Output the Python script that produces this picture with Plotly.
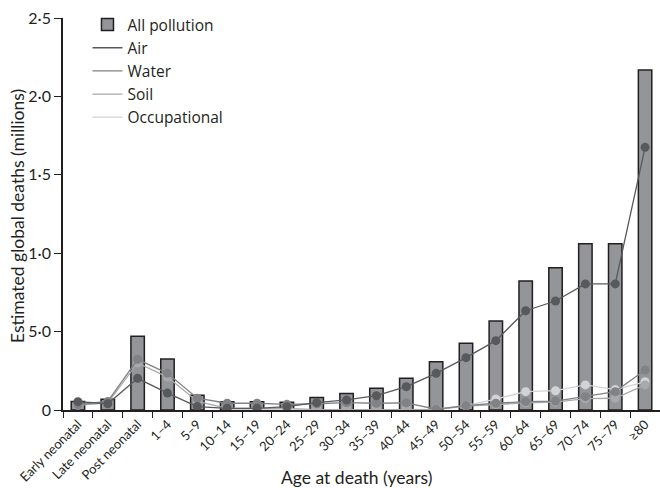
import plotly.graph_objects as go

categories = ["Early neonatal", "Late neonatal", "Post neonatal", "1–4", "5–9", "10–14",
              "15–19", "20–24", "25–29", "30–34", "35–39", "40–44", "45–49", "50–54",
              "55–59", "60–64", "65–69", "70–74", "75–79", "≥80"]

all_pollution = [0.055, 0.068, 0.47, 0.325, 0.094, 0.052, 0.052, 0.049, 0.08, 0.106,
                 0.138, 0.202, 0.308, 0.425, 0.568, 0.823, 0.908, 1.061, 1.061, 2.168]
air = [0.053, 0.04, 0.202, 0.108, 0.022, 0.011, 0.011, 0.021, 0.047, 0.064,
       0.091, 0.149, 0.234, 0.334, 0.442, 0.633, 0.695, 0.804, 0.804, 1.675]
water = [0.035, 0.055, 0.323, 0.234, 0.075, 0.043, 0.043, 0.036, 0.04, 0.047,
         0.043, 0.045, 0.005, 0.028, 0.043, 0.053, 0.057, 0.085, 0.117, 0.255]
soil = [0.03, 0.045, 0.30, 0.21, 0.055, 0.01, 0.01, 0.01, 0.003, 0.003,
        0.003, 0.003, 0.003, 0.025, 0.035, 0.045, 0.05, 0.072, 0.075, 0.16]
occupational = [None, None, None, None, None, 0.002, 0.003, 0.003, 0.003, 0.003,
                0.003, 0.003, 0.005, 0.028, 0.07, 0.117, 0.123, 0.16, 0.13, 0.18]

y_tickvals = [0, 0.5, 1.0, 1.5, 2.0, 2.5]
y_ticktext = ["0", "5·0", "1·0", "1·5", "2·0", "2·5"]

FONT = "Lato, 'Open Sans', sans-serif"
TXT = "#231f20"

series = [
    ("Occupational", occupational, "#d1d3d4"),
    ("Soil", soil, "#a7a9ac"),
    ("Water", water, "#808285"),
    ("Air", air, "#58595b"),
]

fig = go.Figure()
fig.add_trace(go.Bar(
    x=categories, y=all_pollution, name="All pollution", width=0.45,
    marker=dict(color="#939598", line=dict(color="#231f20", width=1.5)),
))
for name, vals, col in series:
    fig.add_trace(go.Scatter(
        x=categories, y=vals, mode="lines+markers", showlegend=False,
        line=dict(color=col, width=1.3), marker=dict(color=col, size=9),
        connectgaps=False,
    ))
for name, col in [("Air", "#58595b"), ("Water", "#808285"), ("Soil", "#a7a9ac"),
                  ("Occupational", "#d1d3d4")]:
    fig.add_trace(go.Scatter(x=[None], y=[None], mode="lines", name=name,
                             line=dict(color=col, width=1.3)))

# paper area spans pixels 0..410 vertically (t=0, b=78); plot top at 18 px
PAPER_H = 410.0
def py(px):
    return (PAPER_H - px) / PAPER_H

def pxx(px):
    return (px - 63) / 597.0

fig.update_layout(
    width=660, height=488,
    margin=dict(l=63, r=0, t=0, b=78),
    paper_bgcolor="white", plot_bgcolor="white",
    font=dict(family=FONT, color=TXT, size=17.5),
    bargap=0.5,
    showlegend=True,
    legend=dict(x=0.041, y=py(8), xanchor="left", yanchor="top",
                font=dict(size=15.5, color=TXT, family="'Open Sans', Lato, sans-serif"),
                itemwidth=30, bgcolor="rgba(0,0,0,0)", tracegroupgap=0),
    xaxis=dict(
        type="category", range=[-0.5, 19.5], automargin=False,
        showline=True, linecolor="#231f20", linewidth=1.5,
        ticks="outside", ticklen=6, tickcolor="#231f20", tickwidth=1.2,
        tickson="boundaries", tickangle=-45, tickfont=dict(size=13),
        showgrid=False, zeroline=False,
    ),
    yaxis=dict(
        domain=[0, py(18)],
        range=[0, 2.5], tickvals=y_tickvals, ticktext=y_ticktext, automargin=False,
        showline=True, linecolor="#231f20", linewidth=1.5,
        ticks="outside", ticklen=7, tickcolor="#231f20", tickwidth=1.2,
        showgrid=False, zeroline=False, tickfont=dict(size=16),
    ),
    annotations=[
        dict(text="Age at death (years)", xref="paper", yref="paper",
             x=pxx(356), y=py(478), xanchor="center", yanchor="middle",
             showarrow=False, font=dict(size=17.5, color=TXT)),
        dict(text="Estimated global deaths (millions)", xref="paper", yref="paper",
             x=pxx(17), y=py(216), xanchor="center", yanchor="middle", textangle=-90,
             showarrow=False, font=dict(size=17.5, color=TXT)),
    ],
)

fig.write_html("out.html", config={"displayModeBar": False},
               post_script="document.body.style.margin='0';")
